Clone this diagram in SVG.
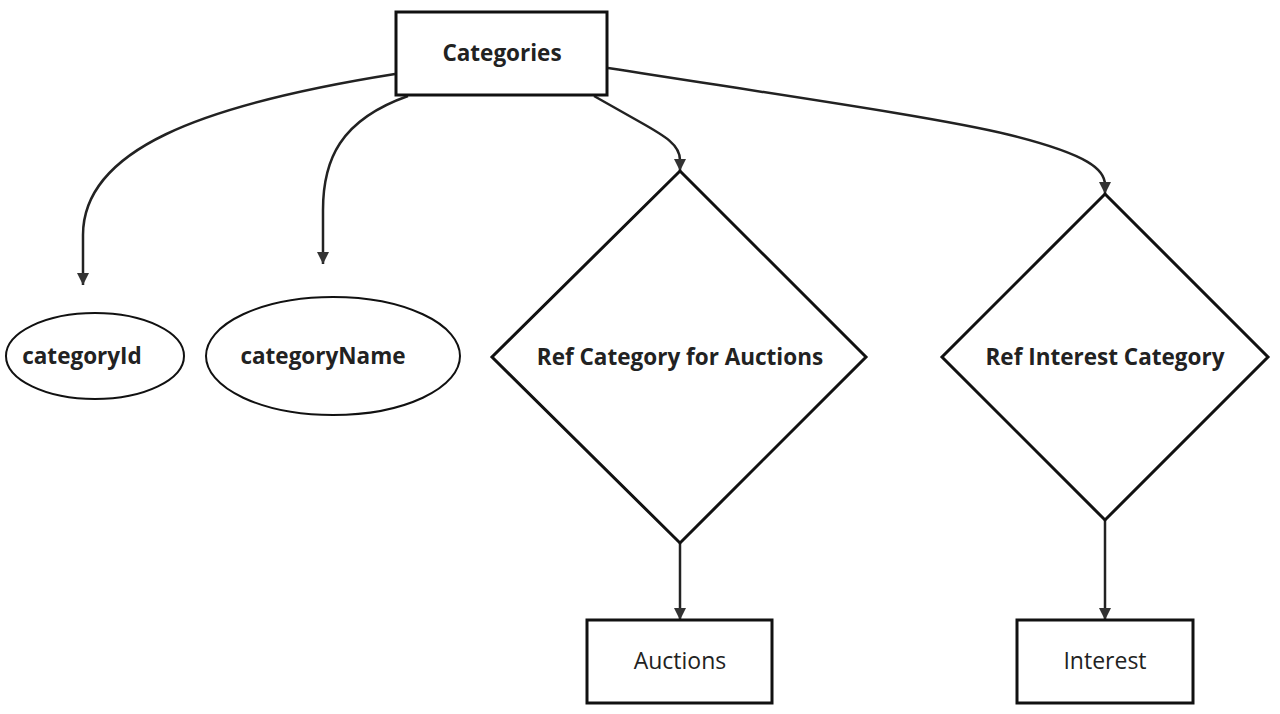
<svg xmlns="http://www.w3.org/2000/svg" width="1280" height="714" viewBox="0 0 1280 714">
<defs>
<marker id="arr" markerWidth="12" markerHeight="12" refX="10" refY="5" orient="auto" markerUnits="userSpaceOnUse" viewBox="0 0 10 10">
<path d="M0,0 L10,5 L0,10 z" fill="#333"/>
</marker>
<style>
.shape{fill:#fff;stroke:#111;stroke-width:3}
.ell{fill:#fff;stroke:#111;stroke-width:2}
.conn{fill:none;stroke:#222;stroke-width:2.5}
.t{font-family:"Open Sans",Lato,sans-serif;font-size:22.5px;fill:#222;text-anchor:middle;dominant-baseline:central}
.b{font-weight:bold}
.r{font-size:23px}
</style>
</defs>
<rect width="1280" height="714" fill="#fff"/>
<g id="connectors">
<path class="conn" d="M395,74 C200,105 83,150 83,235 L83,285" marker-end="url(#arr)"/>
<path class="conn" d="M408,96 C340,120 323,160 323,210 L323,264" marker-end="url(#arr)"/>
<path class="conn" d="M594,96 L640,122 C665,136 680,145 680,160 L680,171" marker-end="url(#arr)"/>
<path class="conn" d="M608,68 C800,98 940,118 1010,135 C1090,155 1105,170 1105,185 L1105,194" marker-end="url(#arr)"/>
<path class="conn" d="M680,543 L680,620" marker-end="url(#arr)"/>
<path class="conn" d="M1105,520 L1105,620" marker-end="url(#arr)"/>
</g>
<g id="categories">
<rect class="shape" x="396" y="12" width="211" height="83"/>
<text class="t b" x="502" y="52">Categories</text>
</g>
<g id="categoryId">
<ellipse class="ell" cx="95" cy="356" rx="89" ry="43"/>
<text class="t b" x="82" y="355">categoryId</text>
</g>
<g id="categoryName">
<ellipse class="ell" cx="333" cy="356" rx="127" ry="59"/>
<text class="t b" x="323" y="355">categoryName</text>
</g>
<g id="refAuctions">
<polygon class="shape" points="680,171 866,357 680,543 492,357"/>
<text class="t b" x="680" y="356">Ref Category for Auctions</text>
</g>
<g id="refInterest">
<polygon class="shape" points="1105,194 1268,357 1105,520 942,357"/>
<text class="t b" x="1105" y="356">Ref Interest Category</text>
</g>
<g id="auctions">
<rect class="shape" x="587" y="620" width="185" height="83"/>
<text class="t r" x="680" y="660">Auctions</text>
</g>
<g id="interest">
<rect class="shape" x="1017" y="620" width="176" height="83"/>
<text class="t r" x="1105" y="660">Interest</text>
</g>
</svg>
